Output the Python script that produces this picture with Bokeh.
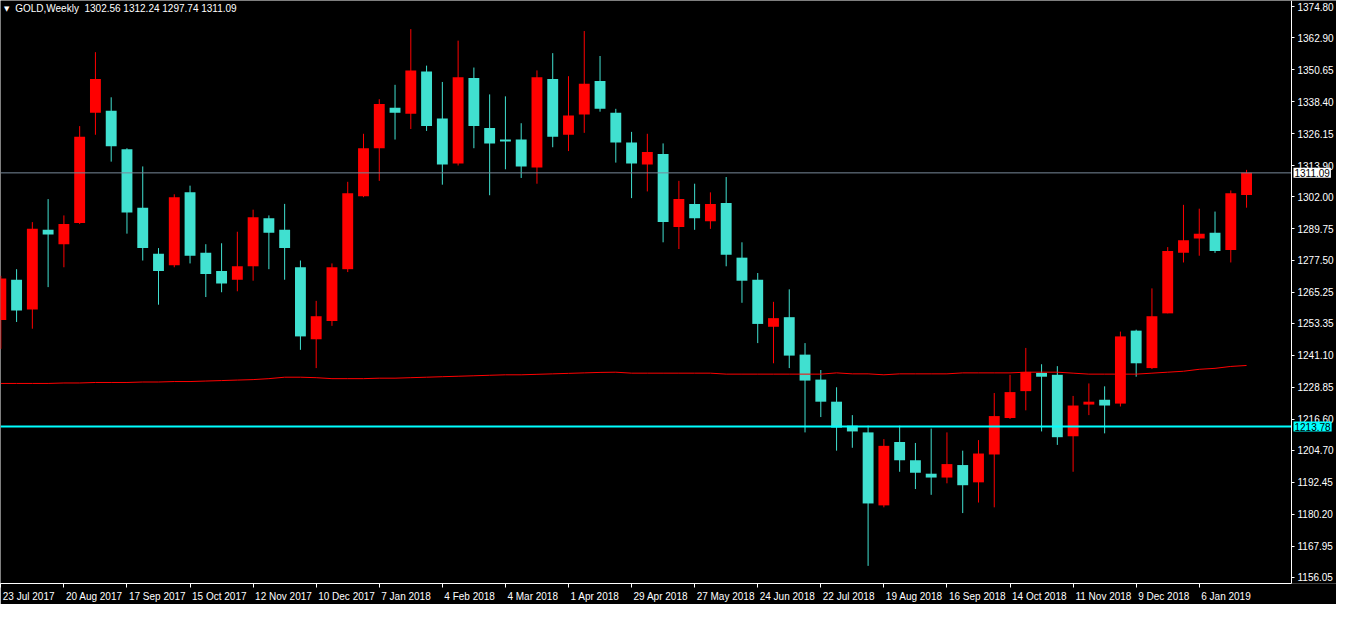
from bokeh.plotting import figure
from bokeh.models import (FixedTicker, Label, Range1d, NumeralTickFormatter,
                          CustomJSTickFormatter, ColumnDataSource)
from bokeh.embed import file_html
from bokeh.resources import INLINE

# ---------------- data (weekly GOLD candles) ----------------
symbol = "GOLD,Weekly"
last_ohlc = [1302.56, 1312.24, 1297.74, 1311.09]

opens = [1254.63, 1270.10, 1258.69, 1289.25, 1283.73, 1291.83, 1334.18, 1334.92, 1320.18, 1297.72,
         1280.04, 1275.63, 1303.61, 1280.41, 1273.42, 1270.10, 1275.26, 1293.67, 1289.25, 1274.89,
         1247.27, 1254.27, 1274.15, 1302.14, 1320.55, 1336.02, 1333.81, 1350.01, 1331.97, 1314.66,
         1347.44, 1328.29, 1323.87, 1323.87, 1313.19, 1347.07, 1325.71, 1333.44, 1346.33, 1334.18,
         1322.76, 1314.29, 1318.34, 1290.36, 1299.19, 1292.56, 1299.56, 1278.57, 1270.10, 1252.06,
         1255.74, 1241.38, 1231.80, 1223.33, 1214.13, 1211.55, 1183.56, 1207.86, 1200.87, 1195.71,
         1194.24, 1199.03, 1192.40, 1203.08, 1217.07, 1227.38, 1234.38, 1233.64, 1210.07, 1222.23,
         1224.07, 1222.60, 1250.58, 1236.22, 1257.21, 1280.41, 1285.94, 1288.15, 1281.52, 1302.56]
highs = [1271.57, 1274.15, 1292.20, 1301.03, 1294.77, 1329.02, 1357.38, 1340.07, 1320.55, 1313.56,
         1282.25, 1302.88, 1306.19, 1283.73, 1284.09, 1288.51, 1296.98, 1294.77, 1299.19, 1277.47,
         1262.00, 1276.36, 1307.66, 1326.08, 1339.33, 1344.86, 1366.22, 1352.22, 1345.96, 1361.80,
         1351.49, 1341.18, 1340.44, 1330.13, 1350.38, 1357.01, 1348.17, 1365.48, 1355.91, 1335.65,
         1326.81, 1326.08, 1322.39, 1308.03, 1306.93, 1303.61, 1309.50, 1284.46, 1272.68, 1261.63,
         1266.42, 1245.80, 1235.48, 1228.86, 1218.18, 1214.13, 1208.97, 1214.13, 1207.50, 1213.02,
         1211.55, 1204.55, 1208.60, 1226.65, 1233.64, 1243.95, 1237.69, 1236.96, 1225.54, 1230.33,
         1229.22, 1250.22, 1250.95, 1266.79, 1282.62, 1298.83, 1297.35, 1296.25, 1304.35, 1312.24]
lows = [1243.59, 1253.90, 1251.32, 1267.27, 1274.89, 1291.46, 1325.71, 1315.40, 1287.78, 1277.47,
        1260.53, 1274.89, 1276.36, 1263.47, 1265.31, 1265.68, 1269.73, 1274.15, 1270.10, 1243.22,
        1236.22, 1252.42, 1273.05, 1301.77, 1308.03, 1323.87, 1327.92, 1327.18, 1306.56, 1313.92,
        1320.55, 1302.51, 1312.45, 1309.14, 1306.93, 1320.92, 1319.45, 1326.44, 1334.55, 1315.03,
        1301.40, 1303.98, 1284.46, 1281.89, 1289.25, 1289.62, 1275.26, 1261.26, 1245.80, 1238.06,
        1236.22, 1211.55, 1217.44, 1204.55, 1205.66, 1160.36, 1182.82, 1196.45, 1189.82, 1187.61,
        1192.03, 1180.61, 1184.66, 1182.82, 1216.70, 1220.02, 1211.92, 1206.76, 1196.45, 1218.18,
        1211.18, 1221.49, 1232.91, 1235.85, 1257.21, 1276.73, 1279.31, 1280.41, 1276.73, 1297.74]
closes = [1270.58, 1258.32, 1289.62, 1287.41, 1291.46, 1324.97, 1347.07, 1321.29, 1295.88, 1282.25,
          1273.42, 1301.77, 1279.31, 1272.31, 1268.63, 1275.26, 1294.04, 1288.15, 1282.25, 1248.37,
          1256.11, 1274.89, 1303.24, 1320.55, 1337.49, 1334.18, 1350.38, 1329.02, 1314.29, 1347.80,
          1329.02, 1322.39, 1323.13, 1313.56, 1347.80, 1324.97, 1333.07, 1345.23, 1335.65, 1322.76,
          1314.66, 1319.08, 1292.20, 1301.03, 1293.67, 1299.19, 1279.68, 1269.73, 1253.16, 1255.37,
          1241.01, 1231.43, 1223.33, 1213.39, 1211.92, 1184.30, 1206.39, 1200.87, 1196.08, 1194.24,
          1199.40, 1191.29, 1203.45, 1217.81, 1227.01, 1234.75, 1232.91, 1209.71, 1221.86, 1223.33,
          1221.86, 1248.37, 1238.06, 1256.11, 1281.15, 1285.20, 1287.78, 1281.15, 1303.24, 1311.09]
ma200 = [1230.33, 1230.33, 1230.33, 1230.33, 1230.51, 1230.51, 1230.70, 1230.70, 1230.70, 1230.88,
         1230.88, 1231.06, 1231.06, 1231.25, 1231.43, 1231.62, 1231.80, 1232.17, 1232.72, 1232.72,
         1232.54, 1232.17, 1232.17, 1232.17, 1232.35, 1232.35, 1232.54, 1232.72, 1232.91, 1233.09,
         1233.27, 1233.46, 1233.64, 1233.64, 1233.83, 1234.01, 1234.19, 1234.38, 1234.56, 1234.64,
         1234.27, 1234.27, 1234.27, 1234.27, 1234.27, 1234.27, 1233.90, 1233.90, 1233.90, 1233.90,
         1233.90, 1233.90, 1233.90, 1234.38, 1234.01, 1234.01, 1233.64, 1234.01, 1234.01, 1234.01,
         1234.01, 1234.38, 1234.38, 1234.38, 1234.38, 1234.64, 1234.64, 1234.64, 1234.27, 1233.90,
         1233.90, 1233.90, 1233.90, 1234.27, 1234.64, 1235.01, 1235.75, 1236.12, 1236.85, 1237.22]

bid_price = 1311.09
level_price = 1213.78

price_ticks = [1374.80, 1362.90, 1350.65, 1338.40, 1326.15, 1313.90, 1302.00, 1289.75, 1277.50,
               1265.25, 1253.35, 1241.10, 1228.85, 1216.60, 1204.70, 1192.45, 1180.20, 1167.95, 1156.05]
date_tick_bars = [0, 4, 8, 12, 16, 20, 24, 28, 32, 36, 40, 44, 48, 52, 56, 60, 64, 68, 72, 76]
date_labels = ["23 Jul 2017", "20 Aug 2017", "17 Sep 2017", "15 Oct 2017", "12 Nov 2017",
               "10 Dec 2017", "7 Jan 2018", "4 Feb 2018", "4 Mar 2018", "1 Apr 2018",
               "29 Apr 2018", "27 May 2018", "24 Jun 2018", "22 Jul 2018", "19 Aug 2018",
               "16 Sep 2018", "14 Oct 2018", "11 Nov 2018", "9 Dec 2018", "6 Jan 2019"]

# ---------------- layout ----------------
W, H = 1336, 604
BOTTOM = 20
AXIS_PX = 1291            # pixel column of the price scale
FONT = "Liberation Sans"
X_START = -0.02
X_AXIS = 81.85            # data position of the price scale (right edge of the chart area)
X_END = X_START + (X_AXIS - X_START) * W / AXIS_PX
Y_START, Y_END = 1153.6, 1377.2
UP, DOWN = "#FF0000", "#40E0D0"

bars = list(range(len(opens)))
src = ColumnDataSource(dict(
    x=bars, o=opens, h=highs, l=lows, c=closes,
    top=[max(a, b) for a, b in zip(opens, closes)],
    bot=[min(a, b) for a, b in zip(opens, closes)],
    col=[UP if c >= o else DOWN for o, c in zip(opens, closes)],
))

p = figure(width=W, height=H, output_backend="svg", toolbar_location=None,
           x_range=Range1d(X_START, X_END), y_range=Range1d(Y_START, Y_END),
           y_axis_location="right", min_border=0, min_border_bottom=BOTTOM)
p.background_fill_color = "black"
p.border_fill_color = "black"
p.outline_line_color = None
p.xgrid.visible = False
p.ygrid.visible = False

p.segment(x0="x", y0="l", x1="x", y1="h", color="col", line_width=1, source=src)
p.vbar(x="x", width=0.69, top="top", bottom="bot", fill_color="col", line_color=None, source=src)
p.line(bars, ma200, color="#FF0000", line_width=1)

# horizontal price lines (bid and the cyan level), ending at the price scale
p.line([X_START, X_AXIS], [bid_price, bid_price], color="#778899", line_width=1)
p.line([X_START, X_AXIS], [level_price, level_price], color="#00FFFF", line_width=2)

# right price axis, pinned at the chart's right edge
ya = p.yaxis[0]
ya.fixed_location = X_AXIS
ya.ticker = FixedTicker(ticks=price_ticks)
ya.formatter = NumeralTickFormatter(format="0.00")
xa = p.xaxis[0]
for ax in (ya, xa):
    ax.axis_line_color = "white"
    ax.major_tick_line_color = "white"
    ax.minor_tick_line_color = "white"
    ax.major_label_text_color = "white"
    ax.major_label_text_font = FONT
    ax.major_label_text_font_size = "10px"
ya.major_tick_in = 0
ya.major_tick_out = 3
ya.minor_tick_out = 0
ya.major_label_standoff = 3

# bottom date axis: labels start at the tick, as in MetaTrader
cw = {' ': .278, 'A': .667, 'J': .5, 'S': .667, 'O': .778, 'N': .722, 'D': .722, 'F': .611,
      'M': .833, 'a': .556, 'b': .556, 'c': .5, 'e': .556, 'g': .556, 'l': .222, 'n': .556,
      'o': .556, 'p': .556, 'r': .333, 't': .278, 'u': .556, 'v': .5, 'y': .5}
px_per_bar = W / (X_END - X_START)
def text_w(s):
    return sum(cw.get(ch, .556) for ch in s) * 10
centers = [b + (text_w(s) / 2 + 2) / px_per_bar for b, s in zip(date_tick_bars, date_labels)]
xa.ticker = FixedTicker(ticks=centers, minor_ticks=date_tick_bars)
xa.formatter = CustomJSTickFormatter(args=dict(labels=date_labels), code="return labels[index];")
xa.bounds = (X_START, X_AXIS)
xa.major_tick_line_color = None
xa.major_tick_out = 0
xa.major_tick_in = 0
xa.minor_tick_in = 0
xa.minor_tick_out = 4
xa.major_label_standoff = 3

# price boxes on the price scale
p.add_layout(Label(x=X_AXIS, y=bid_price, x_offset=2, text=f"{bid_price:.2f}",
                   text_baseline="middle", level="overlay",
                   text_font=FONT, text_font_size="10px", text_color="black",
                   background_fill_color="white", padding=1))
p.add_layout(Label(x=X_AXIS, y=level_price, x_offset=2, text=f"{level_price:.2f}",
                   text_baseline="middle", level="overlay",
                   text_font=FONT, text_font_size="10px", text_color="black",
                   background_fill_color="#00FFFF", padding=1))

# header text
p.add_layout(Label(x=X_START + 0.22, y=Y_END - 1.6, text="\u25BC", text_baseline="top",
                   text_font="DejaVu Sans", text_font_size="7px", text_color="white"))
p.add_layout(Label(x=X_START + 0.93, y=Y_END - 0.9, text_baseline="top",
                   text=symbol + "\u00a0 " + " ".join(f"{v:.2f}" for v in last_ohlc),
                   text_font=FONT, text_font_size="10px", text_color="white"))

open("out.html", "w").write(file_html(p, INLINE))
